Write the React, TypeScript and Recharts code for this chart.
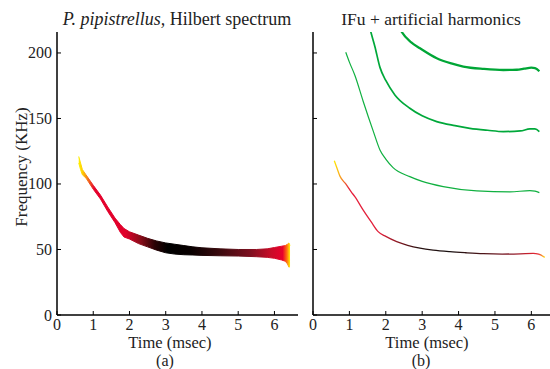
import React from 'react';
import { ComposedChart, Area, Line, XAxis, YAxis } from 'recharts';

// ---------- data ----------
const X_TICKS = [0, 1, 2, 3, 4, 5, 6];
const Y_TICKS = [0, 50, 100, 150, 200];
const X_DOMAIN: [number, number] = [0, 6.65];
const Y_DOMAIN: [number, number] = [0, 216];

// (a) Hilbert spectrum band: time, lower and upper frequency
const bandTime = [0.6, 0.65, 0.7, 0.8, 1.0, 1.2, 1.4, 1.6, 1.75, 1.85, 2.0, 2.25, 2.5, 2.75, 3.0, 3.25, 3.5, 3.75, 4.0, 4.5, 5.0, 5.5, 5.8, 6.0, 6.2, 6.3, 6.36, 6.4, 6.43];
const bandLow = [116, 111, 107, 104.5, 96, 88.5, 79, 70.5, 63, 59.5, 58, 54.5, 52, 49.5, 47.5, 46.5, 46, 45.8, 45.5, 45.2, 45, 44.5, 44, 43.3, 42, 41, 39, 36.5, 37];
const bandHigh = [121, 116, 111, 107, 99, 91.5, 82.5, 74, 69, 66, 63.5, 61, 58.5, 56.5, 55, 54, 53, 52, 51.3, 50.5, 50, 50, 50.5, 51.5, 52.5, 53, 54, 55, 53];

// (b) IFu fundamental
const fundTime = [0.585, 0.66, 0.74, 0.9, 1.05, 1.15, 1.38, 1.6, 1.79, 2.0, 2.3, 2.6, 2.94, 3.3, 3.76, 4.2, 4.68, 5.2, 5.7, 6.05, 6.2, 6.37];
const fundFreq = [117.8, 112, 106, 100, 94, 90.3, 80, 71, 63.6, 60, 56, 53.2, 51, 49.5, 48.3, 47.5, 46.8, 46.5, 46.7, 47, 46.5, 44];

// (b) artificial harmonics
const h2Time = [0.9, 1.0, 1.15, 1.38, 1.66, 1.84, 2.0, 2.2, 2.66, 3.0, 3.58, 4.5, 5.41, 5.96, 6.1, 6.22];
const h2Freq = [200.5, 193, 183, 163, 140, 126, 119, 112.5, 105.6, 102, 98, 94.7, 94, 94.9, 94.5, 93.4];
const h3Time = [1.5, 1.59, 1.7, 1.84, 2.0, 2.25, 2.66, 3.0, 3.4, 3.9, 4.31, 4.8, 5.23, 5.7, 5.96, 6.1, 6.22];
const h3Freq = [226, 216, 205, 189, 179, 168, 157.8, 152, 147.6, 144.5, 142.5, 141, 140, 140.5, 142, 142, 140];
const h4Time = [2.3, 2.44, 2.7, 2.94, 3.4, 3.8, 4.13, 4.7, 5.23, 5.6, 5.8, 6.0, 6.1, 6.22];
const h4Freq = [224, 216, 208, 203.6, 196, 192, 189.6, 187.8, 187, 187.2, 188, 188.8, 188.5, 186];

const bandData = bandTime.map((t, i) => ({ x: t, range: [bandLow[i], bandHigh[i]] }));
const fundData = fundTime.map((t, i) => ({ x: t, y: fundFreq[i] }));
const h2Data = h2Time.map((t, i) => ({ x: t, y: h2Freq[i] }));
const h3Data = h3Time.map((t, i) => ({ x: t, y: h3Freq[i] }));
const h4Data = h4Time.map((t, i) => ({ x: t, y: h4Freq[i] }));

// ---------- layout ----------
const FONT = '"Liberation Serif", "Times New Roman", serif';
const PLOT_TOP = 32;
const PLOT_BOTTOM = 315;
const TICK_LEN = 4;
const AXIS_W = 1.5;

const makeBottomTick = (showLabel: boolean) => (props: any) => {
  const x = props.x;
  return (
    <g>
      <line x1={x} x2={x} y1={PLOT_BOTTOM} y2={PLOT_BOTTOM - TICK_LEN} stroke="#000" strokeWidth={1} />
      {showLabel && (
        <text x={x} y={329.5} textAnchor="middle" fontFamily={FONT} fontSize={16} fill="#222">
          {props.payload.value}
        </text>
      )}
    </g>
  );
};

const TopTick = (props: any) => {
  const x = props.x;
  return <line x1={x} x2={x} y1={PLOT_TOP} y2={PLOT_TOP + TICK_LEN} stroke="#000" strokeWidth={1} />;
};

const makeLeftTick = (axisX: number, showLabel: boolean) => (props: any) => {
  const y = props.y;
  return (
    <g>
      <line x1={axisX} x2={axisX + TICK_LEN} y1={y} y2={y} stroke="#000" strokeWidth={1} />
      {showLabel && (
        <text x={axisX - 5} y={y + 5.5} textAnchor="end" fontFamily={FONT} fontSize={16} fill="#222">
          {props.payload.value}
        </text>
      )}
    </g>
  );
};

const makeRightTick = (axisX: number) => (props: any) => {
  const y = props.y;
  return <line x1={axisX} x2={axisX - TICK_LEN} y1={y} y2={y} stroke="#000" strokeWidth={1} />;
};

const LEFT_PLOT_X = 57;
const LEFT_PLOT_R = 298;

export default function App() {
  return (
    <div style={{ position: 'absolute', left: 0, top: 0, width: 550, height: 369, overflow: 'hidden', background: '#fff' }}>
      {/* Panel (a) */}
      <div style={{ position: 'absolute', left: 0, top: 0 }}>
        <ComposedChart width={300} height={369} margin={{ top: PLOT_TOP, right: 300 - LEFT_PLOT_R, bottom: 0, left: 0 }}>
          <defs>
            <linearGradient id="bandGrad" x1="0" y1="0" x2="1" y2="0">
              <stop offset="0" stopColor="#fff000" />
              <stop offset="0.02" stopColor="#ffc800" />
              <stop offset="0.045" stopColor="#f26a1e" />
              <stop offset="0.075" stopColor="#e5002b" />
              <stop offset="0.22" stopColor="#e0002a" />
              <stop offset="0.29" stopColor="#8c0c1a" />
              <stop offset="0.36" stopColor="#2a0204" />
              <stop offset="0.42" stopColor="#000000" />
              <stop offset="0.53" stopColor="#080000" />
              <stop offset="0.67" stopColor="#3c0a0e" />
              <stop offset="0.81" stopColor="#7c1020" />
              <stop offset="0.91" stopColor="#c80c28" />
              <stop offset="0.965" stopColor="#e8002c" />
              <stop offset="0.985" stopColor="#ff7010" />
              <stop offset="1" stopColor="#fff000" />
            </linearGradient>
          </defs>
          <XAxis
            xAxisId="b"
            dataKey="x"
            type="number"
            domain={X_DOMAIN}
            ticks={X_TICKS}
            allowDataOverflow
            height={369 - PLOT_BOTTOM}
            tickLine={false}
            axisLine={{ stroke: '#000', strokeWidth: AXIS_W }}
            tick={makeBottomTick(true)}
            interval={0}
          />
          <XAxis
            xAxisId="t"
            orientation="top"
            dataKey="x"
            type="number"
            domain={X_DOMAIN}
            ticks={X_TICKS}
            allowDataOverflow
            height={0}
            tickLine={false}
            axisLine={{ stroke: '#000', strokeWidth: AXIS_W }}
            tick={TopTick}
            interval={0}
          />
          <YAxis
            yAxisId="l"
            type="number"
            domain={Y_DOMAIN}
            ticks={Y_TICKS}
            allowDataOverflow
            width={LEFT_PLOT_X}
            tickLine={false}
            axisLine={{ stroke: '#000', strokeWidth: AXIS_W }}
            tick={makeLeftTick(LEFT_PLOT_X, true)}
            interval={0}
          />
          <YAxis
            yAxisId="r"
            orientation="right"
            type="number"
            domain={Y_DOMAIN}
            ticks={Y_TICKS}
            allowDataOverflow
            width={0}
            tickLine={false}
            axisLine={{ stroke: '#000', strokeWidth: AXIS_W }}
            tick={makeRightTick(LEFT_PLOT_R)}
            interval={0}
          />
          <Area
            xAxisId="b"
            yAxisId="l"
            data={bandData}
            dataKey="range"
            type="linear"
            stroke="url(#bandGrad)"
            strokeWidth={1}
            fill="url(#bandGrad)"
            fillOpacity={1}
            isAnimationActive={false}
            dot={false}
            activeDot={false}
          />
        </ComposedChart>
      </div>

      {/* Panel (b) */}
      <div style={{ position: 'absolute', left: 290, top: 0 }}>
        <ComposedChart width={270} height={369} margin={{ top: PLOT_TOP, right: 270 - 23 - 242, bottom: 0, left: 0 }}>
          <defs>
            <linearGradient id="fundGrad" x1="0" y1="0" x2="1" y2="0">
              <stop offset="0" stopColor="#ffe800" />
              <stop offset="0.03" stopColor="#f8a020" />
              <stop offset="0.07" stopColor="#e6203c" />
              <stop offset="0.22" stopColor="#e0203a" />
              <stop offset="0.3" stopColor="#8a1a24" />
              <stop offset="0.4" stopColor="#2a1212" />
              <stop offset="0.55" stopColor="#181010" />
              <stop offset="0.7" stopColor="#4a1418" />
              <stop offset="0.85" stopColor="#8a1a28" />
              <stop offset="0.93" stopColor="#d0202e" />
              <stop offset="0.97" stopColor="#e8303a" />
              <stop offset="1" stopColor="#ffe020" />
            </linearGradient>
          </defs>
          <XAxis
            xAxisId="b"
            dataKey="x"
            type="number"
            domain={X_DOMAIN}
            ticks={X_TICKS}
            allowDataOverflow
            height={369 - PLOT_BOTTOM}
            tickLine={false}
            axisLine={{ stroke: '#000', strokeWidth: AXIS_W }}
            tick={makeBottomTick(true)}
            interval={0}
          />
          <XAxis
            xAxisId="t"
            orientation="top"
            dataKey="x"
            type="number"
            domain={X_DOMAIN}
            ticks={X_TICKS}
            allowDataOverflow
            height={0}
            tickLine={false}
            axisLine={{ stroke: '#000', strokeWidth: AXIS_W }}
            tick={TopTick}
            interval={0}
          />
          <YAxis
            yAxisId="l"
            type="number"
            domain={Y_DOMAIN}
            ticks={Y_TICKS}
            allowDataOverflow
            width={23}
            tickLine={false}
            axisLine={{ stroke: '#000', strokeWidth: AXIS_W }}
            tick={makeLeftTick(23, false)}
            interval={0}
          />
          <Line xAxisId="b" yAxisId="l" data={h2Data} dataKey="y" type="monotone" stroke="#10b040" strokeWidth={1.2} dot={false} activeDot={false} isAnimationActive={false} />
          <Line xAxisId="b" yAxisId="l" data={h3Data} dataKey="y" type="monotone" stroke="#00a83a" strokeWidth={1.7} dot={false} activeDot={false} isAnimationActive={false} />
          <Line xAxisId="b" yAxisId="l" data={h4Data} dataKey="y" type="monotone" stroke="#00a636" strokeWidth={2.3} dot={false} activeDot={false} isAnimationActive={false} />
          <Line xAxisId="b" yAxisId="l" data={fundData} dataKey="y" type="monotone" stroke="url(#fundGrad)" strokeWidth={1.3} dot={false} activeDot={false} isAnimationActive={false} />
        </ComposedChart>
      </div>

      {/* Titles and axis labels */}
      <svg width={550} height={369} style={{ position: 'absolute', left: 0, top: 0, pointerEvents: 'none' }}>
        <text x={177} y={25} textAnchor="middle" fontFamily={FONT} fontSize={18} fill="#222">
          <tspan fontStyle="italic">P. pipistrellus,</tspan>
          <tspan> Hilbert spectrum</tspan>
        </text>
        <text x={431} y={25} textAnchor="middle" fontFamily={FONT} fontSize={17.5} fill="#222">
          IFu + artificial harmonics
        </text>
        <text x={170} y={348} textAnchor="middle" fontFamily={FONT} fontSize={16.5} fill="#222">Time (msec)</text>
        <text x={165} y={366} textAnchor="middle" fontFamily={FONT} fontSize={16} fill="#222">(a)</text>
        <text x={427} y={348} textAnchor="middle" fontFamily={FONT} fontSize={16.5} fill="#222">Time (msec)</text>
        <text x={421} y={366} textAnchor="middle" fontFamily={FONT} fontSize={16} fill="#222">(b)</text>
        <text x={26.5} y={167} textAnchor="middle" fontFamily={FONT} fontSize={17} fill="#222" transform="rotate(-90 26.5 167)">
          Frequency (KHz)
        </text>
      </svg>
    </div>
  );
}
